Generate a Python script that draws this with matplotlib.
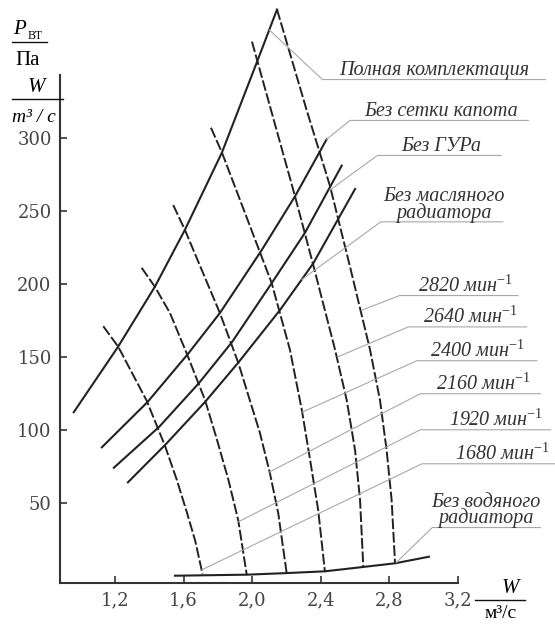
import numpy as np
from matplotlib import pyplot as plt

plt.rcParams['mathtext.fontset'] = 'custom'
plt.rcParams['mathtext.rm'] = 'Liberation Serif'
plt.rcParams['mathtext.it'] = 'Liberation Serif:italic'
plt.rcParams['mathtext.default'] = 'it'

# values: W in m3/s, P in Pa
xticks = [1.2, 1.6, 2.0, 2.4, 2.8, 3.2]
xtick_labels = ['1,2', '1,6', '2,0', '2,4', '2,8', '3,2']
yticks = [50, 100, 150, 200, 250, 300]

# resistance curves (solid)
full_x = [0.96, 1.219, 1.433, 1.608, 1.824, 2.028, 2.145]
full_y = [112, 157, 198, 237, 290, 352, 388]
no_grille_x = [1.124, 1.39, 1.626, 1.812, 2.055, 2.25, 2.434]
no_grille_y = [88, 119, 152, 180, 223, 260, 299]
no_psteer_x = [1.194, 1.458, 1.69, 1.882, 2.114, 2.308, 2.522]
no_psteer_y = [74, 102, 132, 160, 200.5, 235, 281]
no_oil_x = [1.276, 1.496, 1.725, 1.919, 2.162, 2.356, 2.60]
no_oil_y = [64, 90, 119, 146, 182, 214, 265]
no_water_x = [1.55, 1.968, 2.201, 2.424, 2.648, 2.833, 3.03]
no_water_y = [0, 0.7, 1.8, 3, 6, 8.5, 13]

# fan curves (dashed), by rpm
n1680_x = [1.132, 1.219, 1.385, 1.492, 1.560, 1.618, 1.668, 1.711]
n1680_y = [171, 157, 120, 89, 66, 44, 24, 1]
n1920_x = [1.356, 1.433, 1.521, 1.618, 1.725, 1.793, 1.861, 1.919, 1.968]
n1920_y = [211, 198, 180, 152.5, 120.5, 94, 66, 38, 1]
n2160_x = [1.54, 1.608, 1.812, 1.919, 2.045, 2.104, 2.152, 2.201]
n2160_y = [254, 237, 180, 146, 98, 70, 43, 2]
n2400_x = [1.76, 1.824, 2.114, 2.22, 2.289, 2.337, 2.385, 2.424]
n2400_y = [307, 290, 200.5, 155, 114, 80, 45, 3]
n2640_x = [1.999, 2.25, 2.356, 2.483, 2.551, 2.60, 2.629, 2.648]
n2640_y = [366, 260, 213, 155, 120.5, 86, 52, 6]
n2820_x = [2.145, 2.318, 2.454, 2.57, 2.687, 2.745, 2.784, 2.813, 2.833]
n2820_y = [388, 319, 267, 212, 155, 120.5, 86, 52, 8.7]

solid_curves = [(full_x, full_y), (no_grille_x, no_grille_y), (no_psteer_x, no_psteer_y),
                (no_oil_x, no_oil_y), (no_water_x, no_water_y)]
dashed_curves = [(n1680_x, n1680_y), (n1920_x, n1920_y), (n2160_x, n2160_y),
                 (n2400_x, n2400_y), (n2640_x, n2640_y), (n2820_x, n2820_y)]

# label text, leader start, underline (x0, x1, y), text centre x
labels = [
    ('Полная комплектация', (2.10, 374), (2.41, 3.71, 340), 3.06),
    ('Без сетки капота', (2.434, 299), (2.57, 3.61, 312), 3.10),
    ('Без ГУРа', (2.45, 264), (2.73, 3.45, 288), 3.10),
    ('Без масляного\nрадиатора', (2.29, 203), (2.75, 3.46, 242.5), 3.12),
    ('2820 мин$^{-1}$', (2.64, 182), (2.86, 3.55, 192), 3.24),
    ('2640 мин$^{-1}$', (2.50, 150), (2.91, 3.60, 170.5), 3.27),
    ('2400 мин$^{-1}$', (2.29, 112), (2.96, 3.66, 147.3), 3.31),
    ('2160 мин$^{-1}$', (2.10, 71), (2.98, 3.68, 124.7), 3.35),
    ('1920 мин$^{-1}$', (1.92, 37), (2.98, 3.74, 100), 3.42),
    ('1680 мин$^{-1}$', (1.706, 4), (2.99, 3.77, 76.7), 3.46),
    ('Без водяного\nрадиатора', (2.84, 9), (3.05, 3.68, 33), 3.36),
]

W, H = 555, 624


def fig_xy(px, py):
    """pixel position -> figure fraction"""
    return px / W, 1 - py / H


fig = plt.figure(figsize=(W / 100, H / 100), dpi=100)
ax = fig.add_axes([60 / W, 1 - 583 / H, (458 - 60) / W, (583 - 6.6) / H])
ax.set_xlim(0.88, 3.2)
ax.set_ylim(-5, 390)

ink = '#222222'
for x, y in solid_curves:
    ax.plot(x, y, color=ink, lw=1.5, clip_on=False)
for x, y in dashed_curves:
    ax.plot(x, y, color=ink, lw=1.4, dashes=(5.5, 1.4), clip_on=False)

for text, start, line, tx in labels:
    ax.plot([start[0], line[0], line[1]], [start[1], line[2], line[2]],
            color='#a8a8a8', lw=0.8, clip_on=False)
    ax.annotate(text, (tx, line[2]), xytext=(0, 3), textcoords='offset points',
                ha='center', va='baseline', fontsize=14.5, family='Liberation Serif',
                style='italic', color='#333333', linespacing=0.78,
                annotation_clip=False)

for s in ['top', 'right']:
    ax.spines[s].set_visible(False)
for s in ['left', 'bottom']:
    ax.spines[s].set_linewidth(1.5)
    ax.spines[s].set_color('#333333')
ax.spines['left'].set_bounds(-5, 343)

ax.set_xticks(xticks)
ax.set_xticklabels(xtick_labels)
ax.set_yticks(yticks)
ax.tick_params(direction='in', length=5, width=1.2, color='#333333', pad=6,
               labelsize=13, labelcolor='#444444')
for lab in ax.get_xticklabels() + ax.get_yticklabels():
    lab.set_family('DejaVu Serif')

# axis titles as fractions
serif = 'Liberation Serif'
fig.text(*fig_xy(13, 34), 'P', fontsize=15, family=serif, style='italic', va='baseline')
fig.text(*fig_xy(28, 39), 'ВТ', fontsize=8.5, family=serif, va='baseline')
fig.text(*fig_xy(15, 65), 'Па', fontsize=15, family=serif, va='baseline')
fig.text(*fig_xy(36, 92), 'W', fontsize=15, family=serif, style='italic', va='baseline', ha='center')
fig.text(*fig_xy(12, 122), 'm³ / c', fontsize=14, family=serif, style='italic', va='baseline')
fig.text(*fig_xy(510, 593), 'W', fontsize=15, family=serif, style='italic', va='baseline', ha='center')
fig.text(*fig_xy(501, 618), 'м³/с', fontsize=14, family=serif, va='baseline', ha='center')
for x0, x1, y in [(12, 47, 42), (12, 63, 99), (475, 525, 600)]:
    fig.add_artist(plt.Line2D([x0 / W, x1 / W], [1 - y / H, 1 - y / H],
                              color='#111111', lw=1.0, transform=fig.transFigure))

fig.savefig('out.png', dpi=100)
